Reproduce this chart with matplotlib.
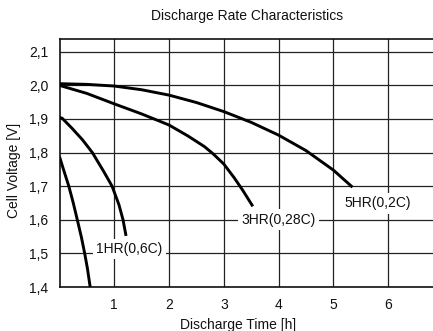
import matplotlib
matplotlib.use("Agg")
import matplotlib.pyplot as plt

plt.rcParams['font.family'] = ['Liberation Sans', 'DejaVu Sans']

# Data (Discharge time [h], cell voltage [V])
curve_a_x = [0.0, 0.08, 0.17, 0.25, 0.325, 0.40, 0.46, 0.51, 0.56]
curve_a_y = [1.788, 1.746, 1.70, 1.651, 1.60, 1.548, 1.50, 1.455, 1.40]

hr1_x = [0.0, 0.05, 0.23, 0.42, 0.60, 0.81, 0.96, 1.085, 1.16, 1.215]
hr1_y = [1.905, 1.902, 1.872, 1.838, 1.80, 1.743, 1.70, 1.645, 1.60, 1.552]

hr3_x = [0.0, 0.5, 1.0, 1.5, 1.85, 2.0, 2.34, 2.645, 2.80, 3.0, 3.19, 3.345, 3.53]
hr3_y = [2.0, 1.976, 1.945, 1.915, 1.892, 1.882, 1.850, 1.818, 1.797, 1.766, 1.725, 1.688, 1.640]

hr5_x = [0.0, 0.5, 1.0, 1.5, 2.0, 2.5, 3.0, 3.5, 4.0, 4.5, 5.0, 5.35]
hr5_y = [2.005, 2.003, 1.998, 1.987, 1.971, 1.949, 1.922, 1.890, 1.852, 1.806, 1.748, 1.697]

labels = ["1HR(0,6C)", "3HR(0,28C)", "5HR(0,2C)"]
label_x = [1.28, 4.0, 5.81]
label_y = [1.513, 1.600, 1.649]

x_ticks = [1, 2, 3, 4, 5, 6]
x_tick_labels = ["1", "2", "3", "4", "5", "6"]
y_ticks = [1.4, 1.5, 1.6, 1.7, 1.8, 1.9, 2.0, 2.1]
y_tick_labels = ["1,4", "1,5", "1,6", "1,7", "1,8", "1,9", "2,0", "2,1"]

W, H = 433, 331
fig = plt.figure(figsize=(W / 100, H / 100), dpi=100)
ax = fig.add_axes([59.5 / W, (H - 287) / H, (W - 59.5) / W, (287 - 39) / H])

ax.set_xlim(0, 6.82)
ax.set_ylim(1.4, 2.138)

ax.set_xticks(x_ticks)
ax.set_xticklabels(x_tick_labels)
ax.set_yticks(y_ticks)
ax.set_yticklabels(y_tick_labels)
ax.tick_params(length=0, labelsize=10, colors='#111111', pad=8)

ax.grid(True, color='#222222', linewidth=0.9)
ax.set_axisbelow(True)
for side in ['left', 'bottom', 'top']:
    ax.spines[side].set_color('#111111')
    ax.spines[side].set_linewidth(1.2)
ax.spines['right'].set_visible(False)

for xs, ys in [(curve_a_x, curve_a_y), (hr1_x, hr1_y), (hr3_x, hr3_y), (hr5_x, hr5_y)]:
    ax.plot(xs, ys, color='black', linewidth=2.1, solid_capstyle='butt',
            solid_joinstyle='round', zorder=3)

for t, lx, ly in zip(labels, label_x, label_y):
    ax.text(lx, ly, t, ha='center', va='center', fontsize=10, color='#111111', zorder=4,
            bbox=dict(facecolor='white', edgecolor='none', pad=2.5))

fig.text(247.5 / W, 1 - 16 / H, "Discharge Rate Characteristics", ha='center', va='center',
         fontsize=10, color='#111111')
fig.text(238.5 / W, 1 - 325 / H, "Discharge Time [h]", ha='center', va='center',
         fontsize=10, color='#111111')
fig.text(14.5 / W, 1 - 170 / H, "Cell Voltage [V]", ha='center', va='center',
         rotation=90, fontsize=10, color='#111111')

fig.savefig("out.png", dpi=100)
